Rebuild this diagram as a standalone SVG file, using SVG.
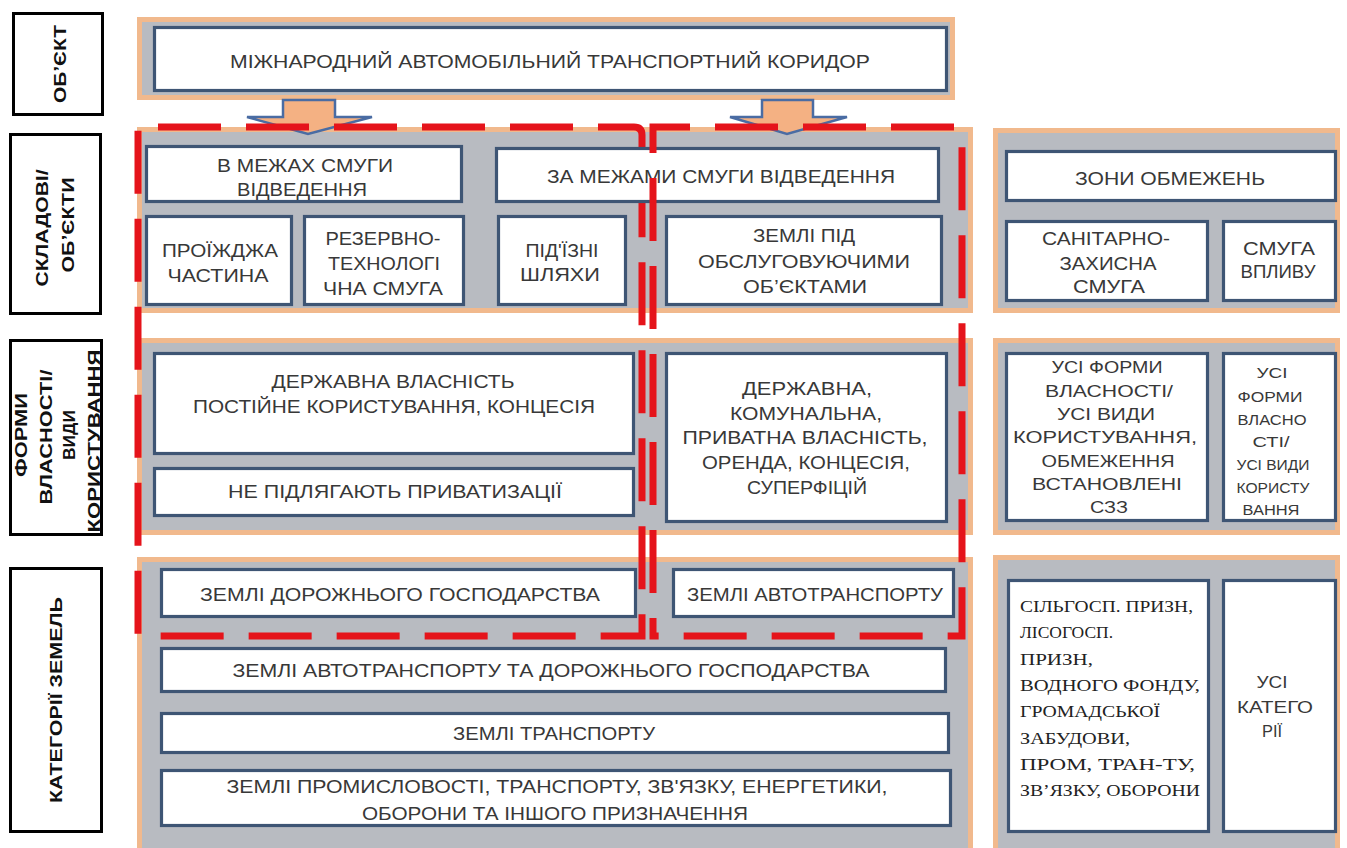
<svg xmlns="http://www.w3.org/2000/svg" width="1347" height="848" viewBox="0 0 1347 848">
<defs>
<style>
.panel{fill:#b8bbc1;stroke:#f1b98d;stroke-width:5}
.box{fill:#ffffff;stroke:#3e5574;stroke-width:3.2}
.lab{fill:#ffffff;stroke:#000000;stroke-width:3}
.t{font-family:"Liberation Sans",Arial,sans-serif;font-size:18px;fill:#383838;text-anchor:middle}
.s16{font-size:16px}
.s14{font-size:14px}
.sf{font-family:"Liberation Serif","Times New Roman",serif;font-size:17px;fill:#222;text-anchor:start}
.lt{font-family:"Liberation Sans",Arial,sans-serif;font-weight:bold;font-size:17px;fill:#111;text-anchor:middle}
.red{fill:none;stroke:#e5141b;stroke-width:7;stroke-dasharray:63 25}
.arrow{fill:#f4b183;stroke:#4a6ca3;stroke-width:2.5;stroke-linejoin:miter}
</style>
</defs>
<rect width="1347" height="848" fill="#ffffff"/>

<!-- left labels -->
<g id="label-object">
<rect class="lab" x="13.5" y="13.5" width="89" height="101"/>
<text class="lt" transform="translate(66,64) rotate(-90)" textLength="78" lengthAdjust="spacingAndGlyphs">ОБ’ЄКТ</text>
</g>
<g id="label-components">
<rect class="lab" x="10.5" y="134.5" width="90" height="179"/>
<text class="lt" transform="translate(48,228) rotate(-90)" textLength="117" lengthAdjust="spacingAndGlyphs">СКЛАДОВІ/</text>
<text class="lt" transform="translate(74,225) rotate(-90)" textLength="95" lengthAdjust="spacingAndGlyphs">ОБ’ЄКТИ</text>
</g>
<g id="label-ownership">
<rect class="lab" x="10.5" y="340.5" width="91" height="194"/>
<text class="lt" transform="translate(27,435) rotate(-90)" textLength="84" lengthAdjust="spacingAndGlyphs">ФОРМИ</text>
<text class="lt" transform="translate(52,437) rotate(-90)" textLength="135" lengthAdjust="spacingAndGlyphs">ВЛАСНОСТІ/</text>
<text class="lt" transform="translate(75,435) rotate(-90)" textLength="50" lengthAdjust="spacingAndGlyphs">ВИДИ</text>
<text class="lt" transform="translate(100,441) rotate(-90)" textLength="183" lengthAdjust="spacingAndGlyphs">КОРИСТУВАННЯ</text>
</g>
<g id="label-categories">
<rect class="lab" x="10.5" y="568.5" width="91" height="263"/>
<text class="lt" transform="translate(62,700) rotate(-90)" textLength="206" lengthAdjust="spacingAndGlyphs">КАТЕГОРІЇ ЗЕМЕЛЬ</text>
</g>

<!-- panels -->
<g id="panels">
<rect class="panel" x="139.5" y="19.5" width="813" height="78"/>
<rect class="panel" x="139.5" y="129.5" width="831" height="181"/>
<rect class="panel" x="995.5" y="130.5" width="342" height="180"/>
<rect class="panel" x="139.5" y="340.5" width="831" height="192"/>
<rect class="panel" x="995.5" y="340.5" width="342" height="192"/>
<rect class="panel" x="139.5" y="559.5" width="831" height="300"/>
<rect class="panel" x="995.5" y="557.5" width="342" height="300"/>
</g>

<!-- connectors -->
<g id="connectors">
<polygon class="arrow" points="283,100 335,100 335,117 372,117 308,134 247,117 283,117"/>
<polygon class="arrow" points="762,100 813,100 813,117 847,117 787,134 730,117 762,117"/>
</g>

<g id="zone-within-strip">
<path class="red" stroke-dashoffset="68" d="M138,127 H634 Q642,127 642,135 V636 H138 Z"/>
</g>

<!-- nodes -->
<g id="n-corridor">
<rect class="box" x="154.5" y="27.5" width="792" height="63"/>
<text class="t" x="550" y="68" textLength="640" lengthAdjust="spacingAndGlyphs">МІЖНАРОДНИЙ АВТОМОБІЛЬНИЙ ТРАНСПОРТНИЙ КОРИДОР</text>
</g>
<g id="n-within">
<rect class="box" x="146.5" y="146.5" width="315" height="55"/>
<text class="t" x="305" y="172" textLength="176" lengthAdjust="spacingAndGlyphs">В МЕЖАХ СМУГИ</text>
<text class="t" x="302" y="196" textLength="130" lengthAdjust="spacingAndGlyphs">ВІДВЕДЕННЯ</text>
</g>
<g id="n-outside">
<rect class="box" x="496.5" y="148.5" width="442" height="53"/>
<text class="t" x="721" y="183" textLength="348" lengthAdjust="spacingAndGlyphs">ЗА МЕЖАМИ СМУГИ ВІДВЕДЕННЯ</text>
</g>
<g id="n-carriageway">
<rect class="box" x="146.5" y="216.5" width="145" height="88"/>
<text class="t" x="220" y="257" textLength="116" lengthAdjust="spacingAndGlyphs">ПРОЇЖДЖА</text>
<text class="t" x="218" y="282" textLength="101" lengthAdjust="spacingAndGlyphs">ЧАСТИНА</text>
</g>
<g id="n-reserve">
<rect class="box" x="304.5" y="216.5" width="159" height="88"/>
<text class="t" x="383" y="245" textLength="115" lengthAdjust="spacingAndGlyphs">РЕЗЕРВНО-</text>
<text class="t" x="384" y="270" textLength="112" lengthAdjust="spacingAndGlyphs">ТЕХНОЛОГІ</text>
<text class="t" x="383" y="295" textLength="120" lengthAdjust="spacingAndGlyphs">ЧНА СМУГА</text>
</g>
<g id="n-access">
<rect class="box" x="498.5" y="216.5" width="127" height="88"/>
<text class="t" x="562" y="257" textLength="73" lengthAdjust="spacingAndGlyphs">ПІД'ЇЗНІ</text>
<text class="t" x="560" y="281" textLength="80" lengthAdjust="spacingAndGlyphs">ШЛЯХИ</text>
</g>
<g id="n-service">
<rect class="box" x="666.5" y="216.5" width="275" height="88"/>
<text class="t" x="804" y="242" textLength="102" lengthAdjust="spacingAndGlyphs">ЗЕМЛІ ПІД</text>
<text class="t" x="804" y="268" textLength="212" lengthAdjust="spacingAndGlyphs">ОБСЛУГОВУЮЧИМИ</text>
<text class="t" x="805" y="293" textLength="124" lengthAdjust="spacingAndGlyphs">ОБ’ЄКТАМИ</text>
</g>
<g id="n-zones">
<rect class="box" x="1006.5" y="151.5" width="329" height="49"/>
<text class="t" x="1170" y="185" textLength="190" lengthAdjust="spacingAndGlyphs">ЗОНИ ОБМЕЖЕНЬ</text>
</g>
<g id="n-sanitary">
<rect class="box" x="1006.5" y="221.5" width="201" height="79"/>
<text class="t" x="1106" y="245" textLength="128" lengthAdjust="spacingAndGlyphs">САНІТАРНО-</text>
<text class="t" x="1108" y="270" textLength="97" lengthAdjust="spacingAndGlyphs">ЗАХИСНА</text>
<text class="t" x="1109" y="293" textLength="72" lengthAdjust="spacingAndGlyphs">СМУГА</text>
</g>
<g id="n-impact">
<rect class="box" x="1223.5" y="221.5" width="112" height="79"/>
<text class="t" x="1279" y="255" textLength="72" lengthAdjust="spacingAndGlyphs">СМУГА</text>
<text class="t" x="1278" y="278" textLength="75" lengthAdjust="spacingAndGlyphs">ВПЛИВУ</text>
</g>
<g id="n-state">
<rect class="box" x="154.5" y="353.5" width="479" height="100"/>
<text class="t" x="393" y="388" textLength="243" lengthAdjust="spacingAndGlyphs">ДЕРЖАВНА ВЛАСНІСТЬ</text>
<text class="t" x="394" y="413" textLength="402" lengthAdjust="spacingAndGlyphs">ПОСТІЙНЕ  КОРИСТУВАННЯ, КОНЦЕСІЯ</text>
</g>
<g id="n-noprivat">
<rect class="box" x="154.5" y="468.5" width="479" height="47"/>
<text class="t" x="395" y="498" textLength="334" lengthAdjust="spacingAndGlyphs">НЕ  ПІДЛЯГАЮТЬ ПРИВАТИЗАЦІЇ</text>
</g>
<g id="n-mixed">
<rect class="box" x="666.5" y="353.5" width="280" height="168"/>
<text class="t" x="807" y="395" textLength="130" lengthAdjust="spacingAndGlyphs">ДЕРЖАВНА,</text>
<text class="t" x="806" y="420" textLength="152" lengthAdjust="spacingAndGlyphs">КОМУНАЛЬНА,</text>
<text class="t" x="805" y="444" textLength="245" lengthAdjust="spacingAndGlyphs">ПРИВАТНА  ВЛАСНІСТЬ,</text>
<text class="t" x="806" y="469" textLength="208" lengthAdjust="spacingAndGlyphs">ОРЕНДА,  КОНЦЕСІЯ,</text>
<text class="t" x="807" y="494" textLength="120" lengthAdjust="spacingAndGlyphs">СУПЕРФІЦІЙ</text>
</g>
<g id="n-all-forms-szz">
<rect class="box" x="1006.5" y="353.5" width="201" height="167"/>
<text class="t s16" x="1107" y="373" textLength="111" lengthAdjust="spacingAndGlyphs">УСІ ФОРМИ</text>
<text class="t s16" x="1109" y="397" textLength="128" lengthAdjust="spacingAndGlyphs">ВЛАСНОСТІ/</text>
<text class="t s16" x="1106" y="420" textLength="98" lengthAdjust="spacingAndGlyphs">УСІ ВИДИ</text>
<text class="t s16" x="1105" y="443" textLength="184" lengthAdjust="spacingAndGlyphs">КОРИСТУВАННЯ,</text>
<text class="t s16" x="1108" y="467" textLength="133" lengthAdjust="spacingAndGlyphs">ОБМЕЖЕННЯ</text>
<text class="t s16" x="1107" y="490" textLength="150" lengthAdjust="spacingAndGlyphs">ВСТАНОВЛЕНІ</text>
<text class="t s16" x="1109" y="513" textLength="38" lengthAdjust="spacingAndGlyphs">СЗЗ</text>
</g>
<g id="n-all-forms">
<rect class="box" x="1223.5" y="353.5" width="112" height="167"/>
<text class="t s14" x="1272" y="378" textLength="31" lengthAdjust="spacingAndGlyphs">УСІ</text>
<text class="t s14" x="1270" y="402" textLength="65" lengthAdjust="spacingAndGlyphs">ФОРМИ</text>
<text class="t s14" x="1272" y="425" textLength="69" lengthAdjust="spacingAndGlyphs">ВЛАСНО</text>
<text class="t s14" x="1271" y="447" textLength="37" lengthAdjust="spacingAndGlyphs">СТІ/</text>
<text class="t s14" x="1273" y="470" textLength="73" lengthAdjust="spacingAndGlyphs">УСІ ВИДИ</text>
<text class="t s14" x="1273" y="493" textLength="73" lengthAdjust="spacingAndGlyphs">КОРИСТУ</text>
<text class="t s14" x="1271" y="515" textLength="57" lengthAdjust="spacingAndGlyphs">ВАННЯ</text>
</g>
<g id="n-road-lands">
<rect class="box" x="161.5" y="569.5" width="474" height="47"/>
<text class="t" x="400" y="601" textLength="400" lengthAdjust="spacingAndGlyphs">ЗЕМЛІ ДОРОЖНЬОГО ГОСПОДАРСТВА</text>
</g>
<g id="n-auto-lands">
<rect class="box" x="673.5" y="569.5" width="280" height="47"/>
<text class="t" x="815" y="601" textLength="256" lengthAdjust="spacingAndGlyphs">ЗЕМЛІ АВТОТРАНСПОРТУ</text>
</g>
<g id="n-auto-road-lands">
<rect class="box" x="161.5" y="648.5" width="784" height="43"/>
<text class="t" x="551" y="677" textLength="637" lengthAdjust="spacingAndGlyphs">ЗЕМЛІ  АВТОТРАНСПОРТУ  ТА ДОРОЖНЬОГО ГОСПОДАРСТВА</text>
</g>
<g id="n-transport-lands">
<rect class="box" x="161.5" y="713.5" width="787" height="39"/>
<text class="t" x="554" y="740" textLength="202" lengthAdjust="spacingAndGlyphs">ЗЕМЛІ ТРАНСПОРТУ</text>
</g>
<g id="n-industry-lands">
<rect class="box" x="161.5" y="770.5" width="789" height="55"/>
<text class="t" x="557" y="793" textLength="661" lengthAdjust="spacingAndGlyphs">ЗЕМЛІ ПРОМИСЛОВОСТІ,  ТРАНСПОРТУ,  ЗВ'ЯЗКУ, ЕНЕРГЕТИКИ,</text>
<text class="t" x="555" y="820" textLength="386" lengthAdjust="spacingAndGlyphs">ОБОРОНИ ТА ІНШОГО ПРИЗНАЧЕННЯ</text>
</g>
<g id="n-other-categories">
<rect class="box" x="1008.5" y="580.5" width="200" height="251"/>
<text class="sf" x="1020" y="612" textLength="173" lengthAdjust="spacingAndGlyphs">СІЛЬГОСП. ПРИЗН,</text>
<text class="sf" x="1020" y="638" textLength="93" lengthAdjust="spacingAndGlyphs">ЛІСОГОСП.</text>
<text class="sf" x="1020" y="665" textLength="73" lengthAdjust="spacingAndGlyphs">ПРИЗН,</text>
<text class="sf" x="1020" y="691" textLength="180" lengthAdjust="spacingAndGlyphs">ВОДНОГО ФОНДУ,</text>
<text class="sf" x="1020" y="717" textLength="140" lengthAdjust="spacingAndGlyphs">ГРОМАДСЬКОЇ</text>
<text class="sf" x="1020" y="744" textLength="110" lengthAdjust="spacingAndGlyphs">ЗАБУДОВИ,</text>
<text class="sf" x="1020" y="770" textLength="175" lengthAdjust="spacingAndGlyphs">ПРОМ, ТРАН-ТУ,</text>
<text class="sf" x="1020" y="796" textLength="180" lengthAdjust="spacingAndGlyphs">ЗВ’ЯЗКУ, ОБОРОНИ</text>
</g>
<g id="n-all-categories">
<rect class="box" x="1223.5" y="580.5" width="112" height="251"/>
<text class="t s16" x="1272" y="688" textLength="31" lengthAdjust="spacingAndGlyphs">УСІ</text>
<text class="t s16" x="1275" y="713" textLength="76" lengthAdjust="spacingAndGlyphs">КАТЕГО</text>
<text class="t s16" x="1272" y="737" textLength="20" lengthAdjust="spacingAndGlyphs">РІЇ</text>
</g>

<g id="zone-outside-strip">
<path class="red" stroke-dashoffset="45" d="M653,636 V127 H954 Q962,127 962,135 V636 Z"/>
</g>
</svg>
